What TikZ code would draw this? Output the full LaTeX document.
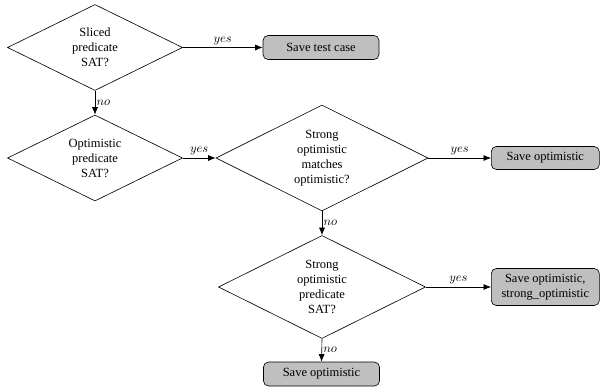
\documentclass[tikz,border=0pt]{standalone}
\usepackage{fontspec}
\setmainfont{Liberation Serif}
\usetikzlibrary{shapes.geometric,arrows.meta}
\begin{document}
\begin{tikzpicture}[x=0.8pt,y=-0.8pt,
  decision/.style={diamond, draw, line width=0.5pt, align=center, inner sep=0pt, aspect=2,
    font=\fontsize{10}{12}\selectfont},
  outcome/.style={rectangle, rounded corners=4pt, draw, line width=0.5pt, fill=black!25,
    align=center, inner sep=0pt, font=\fontsize{10}{12}\selectfont},
  flow/.style={-{Latex[length=6pt,width=4.8pt]}, line width=0.5pt},
  lblyes/.style={midway, above, inner sep=2pt, font=\fontsize{10}{12}\selectfont},
  lblno/.style={midway, right, inner sep=1pt, font=\fontsize{10}{12}\selectfont}]
\useasboundingbox (0,0) rectangle (600,388);
\clip (0,0) rectangle (600,388);
\node[decision, minimum width=140pt, minimum height=68.8pt] (d1) at (95,47.5) {Sliced\\predicate\\SAT?};
\node[decision, minimum width=140pt, minimum height=68.8pt] (d2) at (95,158) {Optimistic\\predicate\\SAT?};
\node[decision, minimum width=169.6pt, minimum height=84.8pt] (d3) at (322,158) {Strong\\optimistic\\matches\\optimistic?};
\node[decision, minimum width=165.6pt, minimum height=82.4pt] (d4) at (322,287) {Strong\\optimistic\\predicate\\SAT?};
\node[outcome, minimum width=92.8pt, minimum height=19.2pt] (b1) at (321,47.5) {Save test case};
\node[outcome, minimum width=86.4pt, minimum height=18.4pt, anchor=west] (b2) at (491,158) {Save optimistic};
\node[outcome, minimum width=86.4pt, minimum height=29.6pt, anchor=west] (b3) at (491,287) {Save optimistic,\\strong\_optimistic};
\node[outcome, minimum width=92.8pt, minimum height=19.2pt] (b4) at (321.5,374) {Save optimistic};
\draw[flow] (d1.east) -- node[lblyes] {$yes$} (b1.west);
\draw[flow] (d1.south) -- node[lblno] {$no$} (d2.north);
\draw[flow] (d2.east) -- node[lblyes] {$yes$} (d3.west);
\draw[flow] (d3.east) -- node[lblyes] {$yes$} (b2.west);
\draw[flow] (d3.south) -- node[lblno] {$no$} (d4.north);
\draw[flow] (d4.east) -- node[lblyes] {$yes$} (b3.west);
\draw[flow] (d4.south) -- node[lblno] {$no$} (b4.north);
\end{tikzpicture}
\end{document}
